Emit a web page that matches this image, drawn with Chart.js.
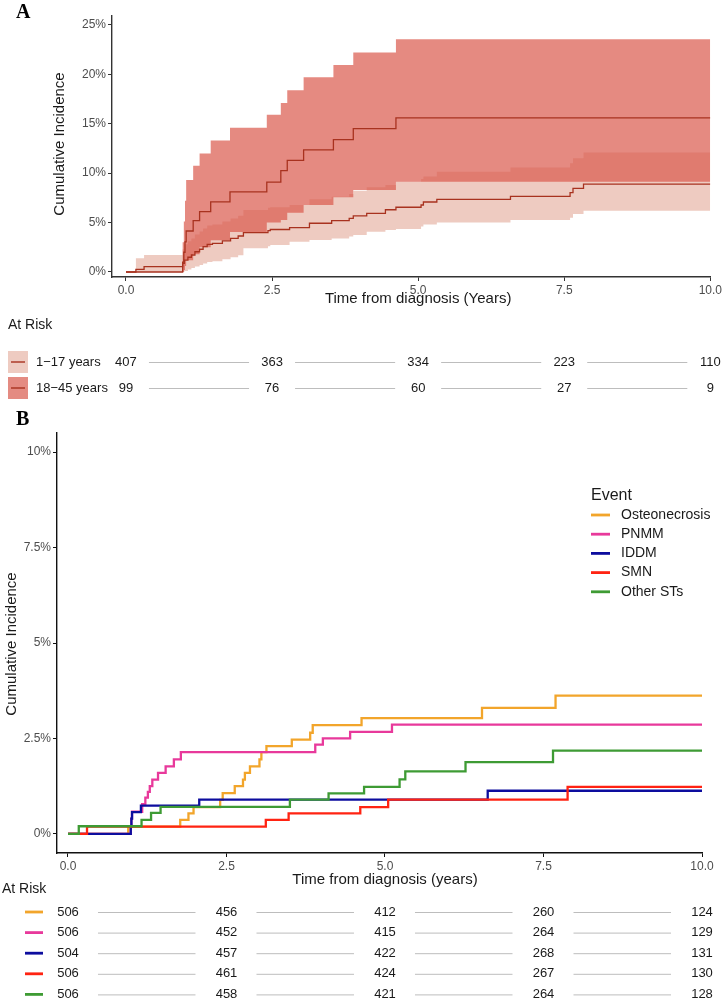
<!DOCTYPE html>
<html><head><meta charset="utf-8">
<script src="https://cdn.jsdelivr.net/npm/chart.js@4.4.1/dist/chart.umd.min.js"></script>
<style>
html,body{margin:0;padding:0;background:#fff;}
#wrap{position:relative;width:724px;height:1000px;overflow:hidden;background:#fff;}
canvas{position:absolute;left:0;}
</style></head><body>
<div id="wrap">
<canvas id="cA" width="724" height="400" style="top:0;width:724px;height:400px"></canvas>
<canvas id="cB" width="724" height="600" style="top:400px;width:724px;height:600px"></canvas>
</div>
<script>
// ---------- shared ticks ----------
const timeTicks = [0, 2.5, 5, 7.5, 10];
const timeTickLabels = ['0.0', '2.5', '5.0', '7.5', '10.0'];

// ---------- Panel A data ----------
const yTicksA = [0, 5, 10, 15, 20, 25];
const groupsA = ['1\u221217 years', '18\u221245 years'];
const riskA1 = [407, 363, 334, 223, 110];
const riskA2 = [99, 76, 60, 27, 9];

// 1-17 years
const tA1   = [0, 0.17, 0.31, 0.97, 1.0, 1.06, 1.12, 1.18, 1.26, 1.32, 1.39, 1.48, 1.65, 1.79, 1.92, 2.01, 2.43, 2.47, 2.80, 3.14, 3.52, 3.82, 3.89, 4.12, 4.44, 4.62, 5.05, 5.09, 5.32, 6.58, 7.60, 7.65, 7.83, 10];
const estA1 = [0, 0.27, 0.54, 0.88, 1.21, 1.49, 1.72, 2.05, 2.30, 2.56, 2.80, 2.90, 3.14, 3.41, 3.64, 3.98, 4.18, 4.30, 4.49, 4.93, 5.19, 5.43, 5.67, 5.94, 6.30, 6.55, 6.78, 7.08, 7.35, 7.66, 8.03, 8.47, 8.90, 8.90];
const lowA1 = [0, 0, 0, 0, 0.1, 0.25, 0.4, 0.55, 0.7, 0.85, 1.0, 1.1, 1.3, 1.5, 1.7, 2.4, 2.6, 2.73, 3.07, 3.24, 3.4, 3.6, 3.74, 4.08, 4.25, 4.35, 4.6, 4.8, 5.0, 5.26, 5.5, 5.87, 6.2, 6.2];
const upA1  = [0, 1.38, 1.72, 2.3, 2.8, 3.1, 3.4, 3.8, 4.1, 4.4, 4.7, 4.8, 5.1, 5.4, 5.7, 6.28, 6.5, 6.55, 6.78, 7.35, 7.62, 7.9, 8.23, 8.57, 8.8, 9.15, 9.4, 9.65, 10.15, 10.56, 11.0, 11.5, 12.08, 12.08];

// 18-45 years
const tA2   = [0, 0.97, 0.99, 1.01, 1.03, 1.15, 1.26, 1.45, 1.78, 2.41, 2.65, 2.76, 3.04, 3.55, 3.89, 4.62, 10];
const estA2 = [0, 1.0, 2.0, 3.05, 4.15, 5.2, 6.1, 7.1, 8.1, 9.1, 10.25, 11.3, 12.35, 13.4, 14.5, 15.6, 15.6];
const lowA2 = [0, 0, 0.2, 0.6, 1.2, 1.8, 2.5, 3.2, 4.05, 5.0, 5.26, 6.0, 6.78, 7.56, 8.3, 9.14, 9.14];
const upA2  = [0, 3.0, 5.1, 7.2, 9.3, 10.76, 12.0, 13.3, 14.6, 15.9, 17.1, 18.4, 19.7, 20.95, 22.2, 23.55, 23.55];

// ---------- Panel B data ----------
const yTicksB = [0, 2.5, 5, 7.5, 10];
const yTickLabelsB = ['0%', '2.5%', '5%', '7.5%', '10%'];
const eventsB = ['Osteonecrosis', 'PNMM', 'IDDM', 'SMN', 'Other STs'];

const tOst  = [0, 0.95, 1.77, 1.90, 1.98, 2.40, 2.44, 2.63, 2.76, 2.79, 2.87, 3.02, 3.05, 3.13, 3.53, 3.82, 3.86, 4.63, 6.53, 7.69, 10];
const vOst  = [0, 0.19, 0.37, 0.54, 0.70, 0.89, 1.07, 1.25, 1.42, 1.60, 1.77, 1.95, 2.14, 2.30, 2.47, 2.65, 2.85, 3.03, 3.30, 3.62, 3.62];
const tPnmm = [0, 0.99, 1.0, 1.01, 1.17, 1.22, 1.26, 1.29, 1.33, 1.42, 1.54, 1.67, 1.78, 3.90, 4.02, 4.45, 5.11, 10];
const vPnmm = [0, 0.2, 0.4, 0.58, 0.78, 0.95, 1.1, 1.25, 1.42, 1.6, 1.77, 1.95, 2.14, 2.34, 2.5, 2.67, 2.86, 2.86];
const tIddm = [0, 0.99, 1.0, 1.01, 1.15, 2.07, 6.62, 10];
const vIddm = [0, 0.2, 0.4, 0.57, 0.74, 0.90, 1.13, 1.13];
const tSmn  = [0, 0.30, 3.12, 3.48, 4.61, 5.05, 7.88, 10];
const vSmn  = [0, 0.19, 0.37, 0.54, 0.70, 0.90, 1.23, 1.23];
const tOth  = [0, 0.17, 1.16, 1.31, 1.46, 3.50, 4.11, 4.67, 5.23, 5.32, 6.27, 7.65, 10];
const vOth  = [0, 0.20, 0.37, 0.55, 0.71, 0.90, 1.06, 1.23, 1.43, 1.64, 1.88, 2.18, 2.18];

const riskOst  = [506, 456, 412, 260, 124];
const riskPnmm = [506, 452, 415, 264, 129];
const riskIddm = [504, 457, 422, 268, 131];
const riskSmn  = [506, 461, 424, 267, 130];
const riskOth  = [506, 458, 421, 264, 128];

// ---------- helpers ----------
const pts = (t, v) => t.map((x, i) => ({ x: x, y: v[i] }));
const SANS = '"Liberation Sans", Arial, Helvetica, sans-serif';
const SERIF = '"Liberation Serif", "DejaVu Serif", "Times New Roman", serif';
Chart.defaults.font.family = SANS;

const LINE_A = '#A8321F';
const BAND1 = '#EECBC1';
const BAND2 = 'rgba(218,89,76,0.7)';
const COLS_B = ['#F2A52B', '#E8399B', '#0D0D9E', '#FF2312', '#3E9B34'];

function xScale(min, axisColor) {
  return {
    type: 'linear', min: min, max: 10,
    afterBuildTicks: s => { s.ticks = timeTicks.map(v => ({ value: v })); },
    afterFit: s => { s.height = 20; },
    ticks: { autoSkip: false, maxRotation: 0, padding: 2, color: '#4D4D4D', font: { size: 12 },
             callback: (v) => timeTickLabels[timeTicks.indexOf(v)] },
    grid: { display: true, drawOnChartArea: false, drawTicks: true, tickLength: 4, color: axisColor, lineWidth: 1 },
    border: { display: true, color: axisColor, width: 1.4 }
  };
}

// ---------- Panel A ----------
const plotA = {
  id: 'textA',
  afterDraw(chart) {
    const ctx = chart.ctx, xs = chart.scales.x;
    ctx.save();
    ctx.fillStyle = '#000';
    ctx.textAlign = 'left'; ctx.textBaseline = 'alphabetic';
    ctx.font = 'bold 20px ' + SERIF;
    ctx.fillText('A', 16, 18);
    // y title
    ctx.save();
    ctx.translate(60, 144); ctx.rotate(-Math.PI / 2);
    ctx.textAlign = 'center'; ctx.textBaseline = 'middle';
    ctx.font = '15px ' + SANS; ctx.fillStyle = '#1A1A1A';
    ctx.fillText('Cumulative Incidence', 0, 0);
    ctx.restore();
    // x title
    ctx.textAlign = 'center'; ctx.textBaseline = 'middle';
    ctx.font = '15px ' + SANS; ctx.fillStyle = '#1A1A1A';
    ctx.fillText('Time from diagnosis (Years)', (xs.getPixelForValue(0) + xs.getPixelForValue(10)) / 2, 299);
    // At risk title
    ctx.textAlign = 'left';
    ctx.font = '14px ' + SANS;
    ctx.fillText('At Risk', 8, 325);
    // rows
    const rows = [[groupsA[0], riskA1, BAND1, 362], [groupsA[1], riskA2, 'rgb(228,139,130)', 388]];
    rows.forEach(r => {
      const y = r[3];
      ctx.fillStyle = r[2];
      ctx.fillRect(8, y - 11, 20, 22);
      ctx.strokeStyle = LINE_A; ctx.lineWidth = 1.4;
      ctx.beginPath(); ctx.moveTo(11, y); ctx.lineTo(25, y); ctx.stroke();
      ctx.fillStyle = '#1A1A1A';
      ctx.font = '13px ' + SANS; ctx.textAlign = 'left';
      ctx.fillText(r[0], 36, y);
      ctx.textAlign = 'center';
      r[1].forEach((n, i) => {
        const px = xs.getPixelForValue(timeTicks[i]);
        ctx.fillText(String(n), px, y);
        if (i < timeTicks.length - 1) {
          const nx = xs.getPixelForValue(timeTicks[i + 1]);
          ctx.strokeStyle = '#BDBDBD'; ctx.lineWidth = 1;
          ctx.beginPath(); ctx.moveTo(px + 23, y + 0.5); ctx.lineTo(nx - 23, y + 0.5); ctx.stroke();
        }
      });
    });
    ctx.restore();
  }
};

new Chart(document.getElementById('cA'), {
  type: 'line',
  data: {
    datasets: [
      { label: groupsA[0], data: pts(tA1, estA1), borderColor: LINE_A, borderWidth: 1.3, stepped: true, pointRadius: 0, fill: false, order: 0 },
      { label: groupsA[1], data: pts(tA2, estA2), borderColor: LINE_A, borderWidth: 1.3, stepped: true, pointRadius: 0, fill: false, order: 0 },
      { label: 'up2', data: pts(tA2, upA2), borderWidth: 0, borderColor: 'rgba(0,0,0,0)', stepped: true, pointRadius: 0, fill: 3, backgroundColor: BAND2, order: 1 },
      { label: 'low2', data: pts(tA2, lowA2), borderWidth: 0, borderColor: 'rgba(0,0,0,0)', stepped: true, pointRadius: 0, fill: false, order: 1 },
      { label: 'up1', data: pts(tA1, upA1), borderWidth: 0, borderColor: 'rgba(0,0,0,0)', stepped: true, pointRadius: 0, fill: 5, backgroundColor: BAND1, order: 2 },
      { label: 'low1', data: pts(tA1, lowA1), borderWidth: 0, borderColor: 'rgba(0,0,0,0)', stepped: true, pointRadius: 0, fill: false, order: 2 }
    ]
  },
  options: {
    responsive: false, animation: false, devicePixelRatio: 1,
    layout: { padding: { left: 0, right: 13, top: 16, bottom: 103 } },
    plugins: { legend: { display: false }, tooltip: { enabled: false }, filler: { drawTime: 'beforeDatasetDraw' } },
    scales: {
      x: xScale(-0.239, '#333333'),
      y: {
        type: 'linear', min: -0.506, max: 25.9,
        afterBuildTicks: s => { s.ticks = yTicksA.map(v => ({ value: v })); },
        afterFit: s => { s.width = 112; },
        ticks: { padding: 2, color: '#4D4D4D', font: { size: 12 }, callback: v => v + '%' },
        grid: { display: true, drawOnChartArea: false, drawTicks: true, tickLength: 4, color: '#333333', lineWidth: 1 },
        border: { display: true, color: '#333333', width: 1.4 }
      }
    }
  },
  plugins: [plotA]
});

// ---------- Panel B ----------
const seriesB = [[tOst, vOst], [tPnmm, vPnmm], [tIddm, vIddm], [tSmn, vSmn], [tOth, vOth]];
const risksB = [riskOst, riskPnmm, riskIddm, riskSmn, riskOth];

const plotB = {
  id: 'textB',
  afterDraw(chart) {
    const ctx = chart.ctx, xs = chart.scales.x;
    ctx.save();
    ctx.fillStyle = '#000';
    ctx.textAlign = 'left'; ctx.textBaseline = 'alphabetic';
    ctx.font = 'bold 20px ' + SERIF;
    ctx.fillText('B', 16, 25);
    // y title
    ctx.save();
    ctx.translate(12, 244); ctx.rotate(-Math.PI / 2);
    ctx.textAlign = 'center'; ctx.textBaseline = 'middle';
    ctx.font = '15px ' + SANS; ctx.fillStyle = '#1A1A1A';
    ctx.fillText('Cumulative Incidence', 0, 0);
    ctx.restore();
    // x title
    ctx.textAlign = 'center'; ctx.textBaseline = 'middle';
    ctx.font = '15px ' + SANS; ctx.fillStyle = '#1A1A1A';
    ctx.fillText('Time from diagnosis (years)', (xs.getPixelForValue(0) + xs.getPixelForValue(10)) / 2, 480);
    // legend
    ctx.textAlign = 'left';
    ctx.font = '16px ' + SANS;
    ctx.fillText('Event', 591, 96);
    ctx.font = '14px ' + SANS;
    eventsB.forEach((name, i) => {
      const y = 115 + i * 19.2;
      ctx.strokeStyle = COLS_B[i]; ctx.lineWidth = 2.8;
      ctx.beginPath(); ctx.moveTo(591, y); ctx.lineTo(610, y); ctx.stroke();
      ctx.fillStyle = '#1A1A1A';
      ctx.fillText(name, 621, y);
    });
    // at risk
    ctx.font = '14px ' + SANS;
    ctx.fillText('At Risk', 2, 489);
    ctx.font = '13px ' + SANS;
    risksB.forEach((arr, k) => {
      const y = 512 + k * 20.6;
      ctx.strokeStyle = COLS_B[k]; ctx.lineWidth = 2.8;
      ctx.beginPath(); ctx.moveTo(25, y); ctx.lineTo(43, y); ctx.stroke();
      ctx.fillStyle = '#1A1A1A'; ctx.textAlign = 'center';
      arr.forEach((n, i) => {
        const px = xs.getPixelForValue(timeTicks[i]);
        ctx.fillText(String(n), px, y);
        if (i < timeTicks.length - 1) {
          const nx = xs.getPixelForValue(timeTicks[i + 1]);
          ctx.strokeStyle = '#BDBDBD'; ctx.lineWidth = 1;
          ctx.beginPath(); ctx.moveTo(px + 30, y + 0.5); ctx.lineTo(nx - 31, y + 0.5); ctx.stroke();
        }
      });
    });
    ctx.restore();
  }
};

new Chart(document.getElementById('cB'), {
  type: 'line',
  data: {
    datasets: seriesB.map((s, i) => ({
      label: eventsB[i], data: pts(s[0], s[1]), borderColor: COLS_B[i], borderWidth: 2.3,
      stepped: true, pointRadius: 0, fill: false, order: 5 - i
    }))
  },
  options: {
    responsive: false, animation: false, devicePixelRatio: 1,
    layout: { padding: { left: 0, right: 22, top: 33, bottom: 127 } },
    plugins: { legend: { display: false }, tooltip: { enabled: false } },
    scales: {
      x: xScale(-0.1735, '#111111'),
      y: {
        type: 'linear', min: -0.5, max: 10.5,
        afterBuildTicks: s => { s.ticks = yTicksB.map(v => ({ value: v })); },
        afterFit: s => { s.width = 57; },
        ticks: { padding: 2, color: '#4D4D4D', font: { size: 12 }, callback: v => yTickLabelsB[yTicksB.indexOf(v)] },
        grid: { display: true, drawOnChartArea: false, drawTicks: true, tickLength: 4, color: '#111111', lineWidth: 1 },
        border: { display: true, color: '#111111', width: 1.4 }
      }
    }
  },
  plugins: [plotB]
});
</script>
</body></html>
